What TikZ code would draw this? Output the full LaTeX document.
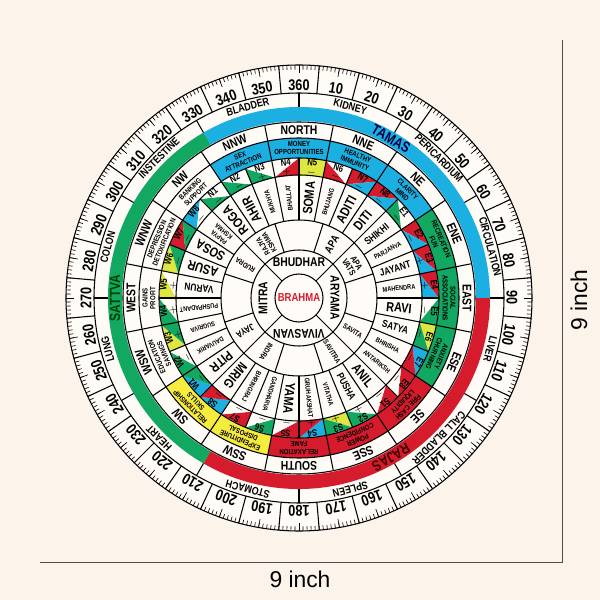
\documentclass[tikz,border=0pt]{standalone}
\usepackage{fontspec}
\setmainfont{Liberation Sans}[FakeStretch=0.82]
\newfontfamily\inchfont{Liberation Sans}
\usetikzlibrary{calc}
\definecolor{paper}{RGB}{252,243,235}
\definecolor{disc}{RGB}{255,251,246}
\definecolor{tamasblue}{RGB}{28,176,226}
\definecolor{sattvagreen}{RGB}{18,168,98}
\definecolor{rajasred}{RGB}{214,28,44}
\definecolor{padayellow}{RGB}{222,230,64}
\definecolor{attryellow}{RGB}{246,236,62}

% annular cell: colour, compass angles from/to, radii in/out
\newcommand{\ringcell}[5]{%
  \fill[#1] ({90-(#2)}:#4) arc[start angle={90-(#2)}, end angle={90-(#3)}, radius=#4]
    -- ({90-(#3)}:#5) arc[start angle={90-(#3)}, end angle={90-(#2)}, radius=#5] -- cycle;}
% pada cell split on its diagonal: start angle, upper-left colour, lower-right colour
\newcommand{\padaA}[3]{%
  \fill[#2] ({90-(#1)}:123) -- ({90-(#1)}:140) -- ({90-(#1)-11.25}:140) -- cycle;
  \fill[#3] ({90-(#1)}:123) -- ({90-(#1)-11.25}:123) -- ({90-(#1)-11.25}:140) -- cycle;}
% other diagonal: lower-left colour, upper-right colour
\newcommand{\padaB}[3]{%
  \fill[#2] ({90-(#1)}:123) -- ({90-(#1)}:140) -- ({90-(#1)-11.25}:123) -- cycle;
  \fill[#3] ({90-(#1)}:140) -- ({90-(#1)-11.25}:140) -- ({90-(#1)-11.25}:123) -- cycle;}

\begin{document}
\begin{tikzpicture}[scale=0.02,
  every node/.style={inner sep=0.3pt},
  ringline/.style={line width=0.6pt, black},
  tickline/.style={line width=0.35pt, black},
  degnum/.style={font=\bfseries\fontsize{8.8}{9}\selectfont},
  organ/.style={font=\bfseries\fontsize{6.2}{6.4}\selectfont},
  dirtext/.style={font=\bfseries\fontsize{7.2}{7.4}\selectfont},
  attrtext/.style={font=\bfseries\fontsize{4.2}{4.5}\selectfont, align=center},
  padatext/.style={font=\bfseries\fontsize{5.4}{5}\selectfont, align=center},
  dL/.style={font=\bfseries\fontsize{7.6}{7.6}\selectfont},
  dM/.style={font=\bfseries\fontsize{5.8}{5.8}\selectfont},
  dS/.style={font=\bfseries\fontsize{3.9}{3.9}\selectfont},
  dT/.style={font=\bfseries\fontsize{3.9}{4.2}\selectfont, align=center},
  inner/.style={font=\bfseries\fontsize{7.2}{7.2}\selectfont},
  corner/.style={align=center},
  bandtext/.style={font=\bfseries\fontsize{8.4}{8.4}\selectfont}]
  \useasboundingbox (-299,-302) rectangle (301,298);
  \fill[paper] (-299,-302) rectangle (301,298);
  \fill[disc] (0,0) circle (233);

  % guna band
  \ringcell{tamasblue}{-30}{90}{177}{191}
  \ringcell{rajasred}{90}{210}{177}{191}
  \ringcell{sattvagreen}{210}{330}{177}{191}
  \node[bandtext, text=black!75!blue, rotate=-30] at (60:184) {TAMAS};
  \node[bandtext, text=black!75!red, rotate=-150] at (-60:184) {RAJAS};
  \node[bandtext, text=black!75!green, rotate=90] at (180:184) {SATTVA};

  % attribute ring
  \foreach \t/\c [count=\i from 0] in {{MONEY\\OPPORTUNITIES}/tamasblue, {HEALTHY\\IMMUNITY}/tamasblue,
      {CLARITY\\MIND}/tamasblue, {RECREATION\\FUN}/sattvagreen, {SOCIAL\\ASSOCIATIONS}/sattvagreen,
      {ANXIETY\\CHURNING}/sattvagreen, {FIRE CASH\\LIQUIDITY}/rajasred, {POWER\\CONFIDENCE}/rajasred,
      {RELAXATION\\FAME}/rajasred, {EXPENDITURE\\DISPOSAL}/attryellow, {RELATIONSHIP\\SKILLS}/attryellow,
      {EDUCATION\\SAVINGS}/disc, {GAINS\\PROFIT}/disc, {DEPRESSION\\DETOXIFICATION}/disc,
      {BANKING\\SUPPORT}/disc, {SEX\\ATTRACTION}/tamasblue} {
    \pgfmathsetmacro{\th}{22.5*\i}
    \ringcell{\c}{\th-11.25}{\th+11.25}{140}{160}
    \node[attrtext, rotate=-\th] at ({90-\th}:150) {\t};
  }

  % padas
  \foreach \p/\s/\ca/\cb/\dg [count=\i from 0] in {
      N1/-/sattvagreen/disc/B, N2/-/sattvagreen/disc/B, N3/+/sattvagreen/disc/B, N4/+/disc/rajasred/A,
      N5/-/padayellow/padayellow/A, N6/-/rajasred/disc/B, N7/-/rajasred/tamasblue/A, N8/-/rajasred/tamasblue/A,
      E1/-/sattvagreen/disc/B, E2/-/rajasred/tamasblue/A, E3/+/rajasred/tamasblue/A, E4/+/rajasred/tamasblue/A,
      E5/-/disc/sattvagreen/B, E6/-/padayellow/sattvagreen/A, E7/-/tamasblue/rajasred/A, E8/-/rajasred/disc/A,
      S1/-/rajasred/disc/A, S2/+/disc/sattvagreen/B, S3/+/padayellow/sattvagreen/B, S4/+/tamasblue/rajasred/A,
      S5/-/rajasred/disc/A, S6/-/sattvagreen/disc/A, S7/-/rajasred/disc/A, S8/-/tamasblue/rajasred/A,
      W1/-/tamasblue/sattvagreen/A, W2/-/sattvagreen/disc/A, W3/+/padayellow/sattvagreen/A, W4/+/sattvagreen/disc/A,
      W5/+/padayellow/disc/A, W6/-/padayellow/sattvagreen/A, W7/-/rajasred/sattvagreen/A, W8/-/tamasblue/disc/A} {
    \pgfmathsetmacro{\th}{315+11.25*\i}
    \csname pada\dg\endcsname{\th}{\ca}{\cb}
    \node[padatext, rotate=-\th-5.625] at ({90-\th-5.625}:131) {\p\\$\mathbf{\s}$};
  }

  % outer devtas
  \foreach \nm/\fs [count=\i from 0] in {ROGA/dL, AHIR/dL, MUKHYA/dS, BHALLAT/dS, SOMA/dL, BHUJANG/dS,
      ADITI/dL, DITI/dL, SHIKHI/dM, PARJANYA/dS, JAYANT/dM, MAHENDRA/dS, RAVI/dL, SATYA/dM,
      BHRISHA/dS, ANTARIKSH/dS, ANIL/dL, PUSHA/dM, VITATHA/dS, GRUHAKSHAT/dS, YAMA/dL,
      GANDHARVA/dS, BHRINGRAJ/dS, MRIG/dL, PITR/dL, DAUVARIK/dS, SUGRIVA/dS, PUSHPADANT/dS,
      VARUN/dM, ASUR/dL, SOSA/dL, {PAPYA\\KSHMA}/dT} {
    \pgfmathsetmacro{\th}{320.625+11.25*\i}
    \node[\fs, rotate=90-\th] at ({90-\th}:100.5) {\nm};
  }

  % corner devtas
  \foreach \nm/\th/\rt/\sz in {APA/31.5/90/6.2, {APA\\VATS}/58.5/0/5, SAVITA/121.5/90/4.2,
      SAVITRA/148.5/90/4.2, INDRA/211.5/90/4.2, JAYA/238.5/90/5.4, RUDRA/301.5/90/4.2,
      {RAJYA\\KSHMA}/328.5/90/4.2} {
    \node[corner, font=\bfseries\fontsize{\sz}{\sz}\selectfont, rotate=\rt-\th] at ({90-\th}:63) {\nm};
  }

  % inner devtas
  \foreach \nm [count=\i from 0] in {BHUDHAR, ARYAMA, VIVASVAN, MITRA}
    \node[inner, rotate=-90*\i] at ({90-90*\i}:36) {\nm};
  \node[font=\bfseries\fontsize{6.6}{6.6}\selectfont, text=rajasred] at (0,0) {BRAHMA};

  % directions
  \foreach \d [count=\i from 0] in {NORTH, NNE, NE, ENE, EAST, ESE, SE, SSE, SOUTH, SSW, SW, WSW,
      WEST, WNW, NW, NNW}
    \node[dirtext, rotate=-22.5*\i] at ({90-22.5*\i}:168) {\d};

  % organs
  \foreach \o [count=\i] in {KIDNEY, PERICARDIUM, CIRCULATION, LIVER, CALL BLADDER, SPLEEN,
      STOMACH, HEART, LUNG, COLON, INSTESTINE, BLADDER}
    \node[organ, rotate=-30*\i+15] at ({105-30*\i}:198) {\o};

  % degree scale
  \foreach \d in {10,20,...,360}
    \node[degnum, rotate=-\d] at ({90-\d}:213) {\d};
  \foreach \d in {0,...,359}
    \draw[tickline] ({90-\d}:233) -- ({90-\d}:228.5);
  \foreach \d in {0,10,...,350}
    \draw[tickline] ({90-\d}:233) -- ({90-\d}:224.5);
  \foreach \d in {5,15,...,355}
    \draw[ringline] ({90-\d}:233) -- ({90-\d}:205);

  % ring outlines and spokes
  \foreach \r in {24,48,78,123,140,160,176,205,233}
    \draw[ringline] (0,0) circle (\r);
  \foreach \a in {0,30,...,330}
    \draw[ringline] ({90-\a}:191) -- ({90-\a}:205);
  \foreach \a in {11.25,33.75,...,348.75}
    \draw[ringline] ({90-\a}:140) -- ({90-\a}:176);
  \foreach \a in {0,11.25,...,348.75}
    \draw[ringline] ({90-\a}:78) -- ({90-\a}:140);
  \foreach \a in {45,135,225,315}
    \draw[ringline] ({90-\a}:24) -- ({90-\a}:78);
  \foreach \a in {18,72,108,162,198,252,288,342}
    \draw[ringline] ({90-\a}:48) -- ({90-\a}:78);

  % size marks
  \draw[line width=0.5pt, black!70] (-259,-264) -- (263,-264) -- (263,258);
  \node[font=\inchfont\fontsize{13}{13}\selectfont] at (1,-281) {9 inch};
  \node[font=\inchfont\fontsize{13}{13}\selectfont, rotate=90] at (280,-2) {9 inch};
\end{tikzpicture}
\end{document}
